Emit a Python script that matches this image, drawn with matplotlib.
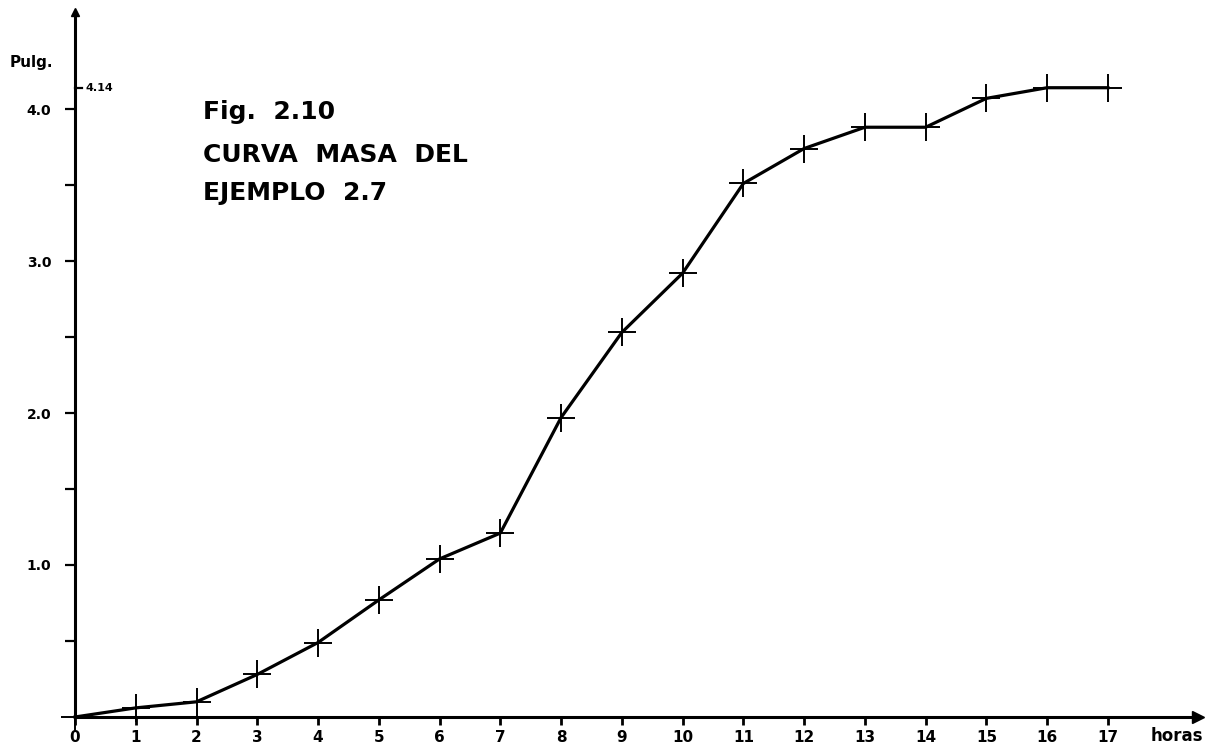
import matplotlib.pyplot as plt
import numpy as np

# Curva masa, ejemplo 2.7 (lluvia acumulada en pulgadas vs horas)
horas = list(range(18))
pulgadas = [0.0, 0.06, 0.10, 0.28, 0.49, 0.77, 1.04, 1.21, 1.97, 2.53,
            2.92, 3.51, 3.74, 3.88, 3.88, 4.07, 4.14, 4.14]
x_labels = [str(h) for h in horas]
y_ticks = [1.0, 2.0, 3.0, 4.0]
y_labels = ['1.0', '2.0', '3.0', '4.0']
y_minor = [0.5, 1.5, 2.5, 3.5]
total = 4.14

W, H = 1208, 746
fig = plt.figure(figsize=(W / 100, H / 100), dpi=100)
fig.patch.set_facecolor('white')

# axes placed so that 0 h sits at x=75 px and 0 in at y=717 px
ax = fig.add_axes([75 / W, 29 / H, (1198 - 75) / W, (717 - 12) / H])
ax.set_xlim(0, (1198 - 75) / 60.76)
ax.set_ylim(0, (717 - 12) / 152)

# the curve
ax.plot(horas, pulgadas, color='black', linewidth=2.3, marker='+',
        markersize=20, markeredgewidth=1.4, clip_on=False, zorder=3)

# axes look like a hand-drawn plot
for side in ['top', 'right']:
    ax.spines[side].set_visible(False)
for side in ['left', 'bottom']:
    ax.spines[side].set_linewidth(2.2)
    ax.spines[side].set_color('black')

# arrow heads
ax.plot(1, 0, marker='>', color='black', markersize=8,
        transform=ax.transAxes, clip_on=False)
ax.plot(0, 1, marker='^', color='black', markersize=6,
        transform=ax.transAxes, clip_on=False)

ax.set_xticks(horas)
ax.set_xticklabels(x_labels, fontweight='bold', fontsize=11)
ax.tick_params(axis='x', direction='out', length=6, width=2, pad=3)

ax.set_yticks(y_ticks)
ax.set_yticklabels(y_labels, fontweight='bold', fontsize=10)
ax.set_yticks(y_minor, minor=True)
ax.tick_params(axis='y', which='both', direction='out', length=7, width=1.6, pad=10)

# 4.14 mark on the inside of the axis
ax.plot([0, 0.12], [total, total], color='black', linewidth=1.6, clip_on=False)
ax.text(0.17, total, f'{total:.2f}', fontsize=8, fontweight='bold',
        ha='left', va='center')

# axis names
fig.text(10 / W, 1 - 62 / H, 'Pulg.', fontsize=11, fontweight='bold',
         ha='left', va='center')
fig.text(1203 / W, 1 - 736 / H, 'horas', fontsize=12, fontweight='bold',
         ha='right', va='center')

# figure caption
ax.text(2.1, 3.98, 'Fig.  2.10', fontsize=18, fontweight='bold', va='center')
ax.text(2.1, 3.70, 'CURVA  MASA  DEL', fontsize=18, fontweight='bold', va='center')
ax.text(2.1, 3.45, 'EJEMPLO  2.7', fontsize=18, fontweight='bold', va='center')

fig.savefig('out.png', dpi=100)
